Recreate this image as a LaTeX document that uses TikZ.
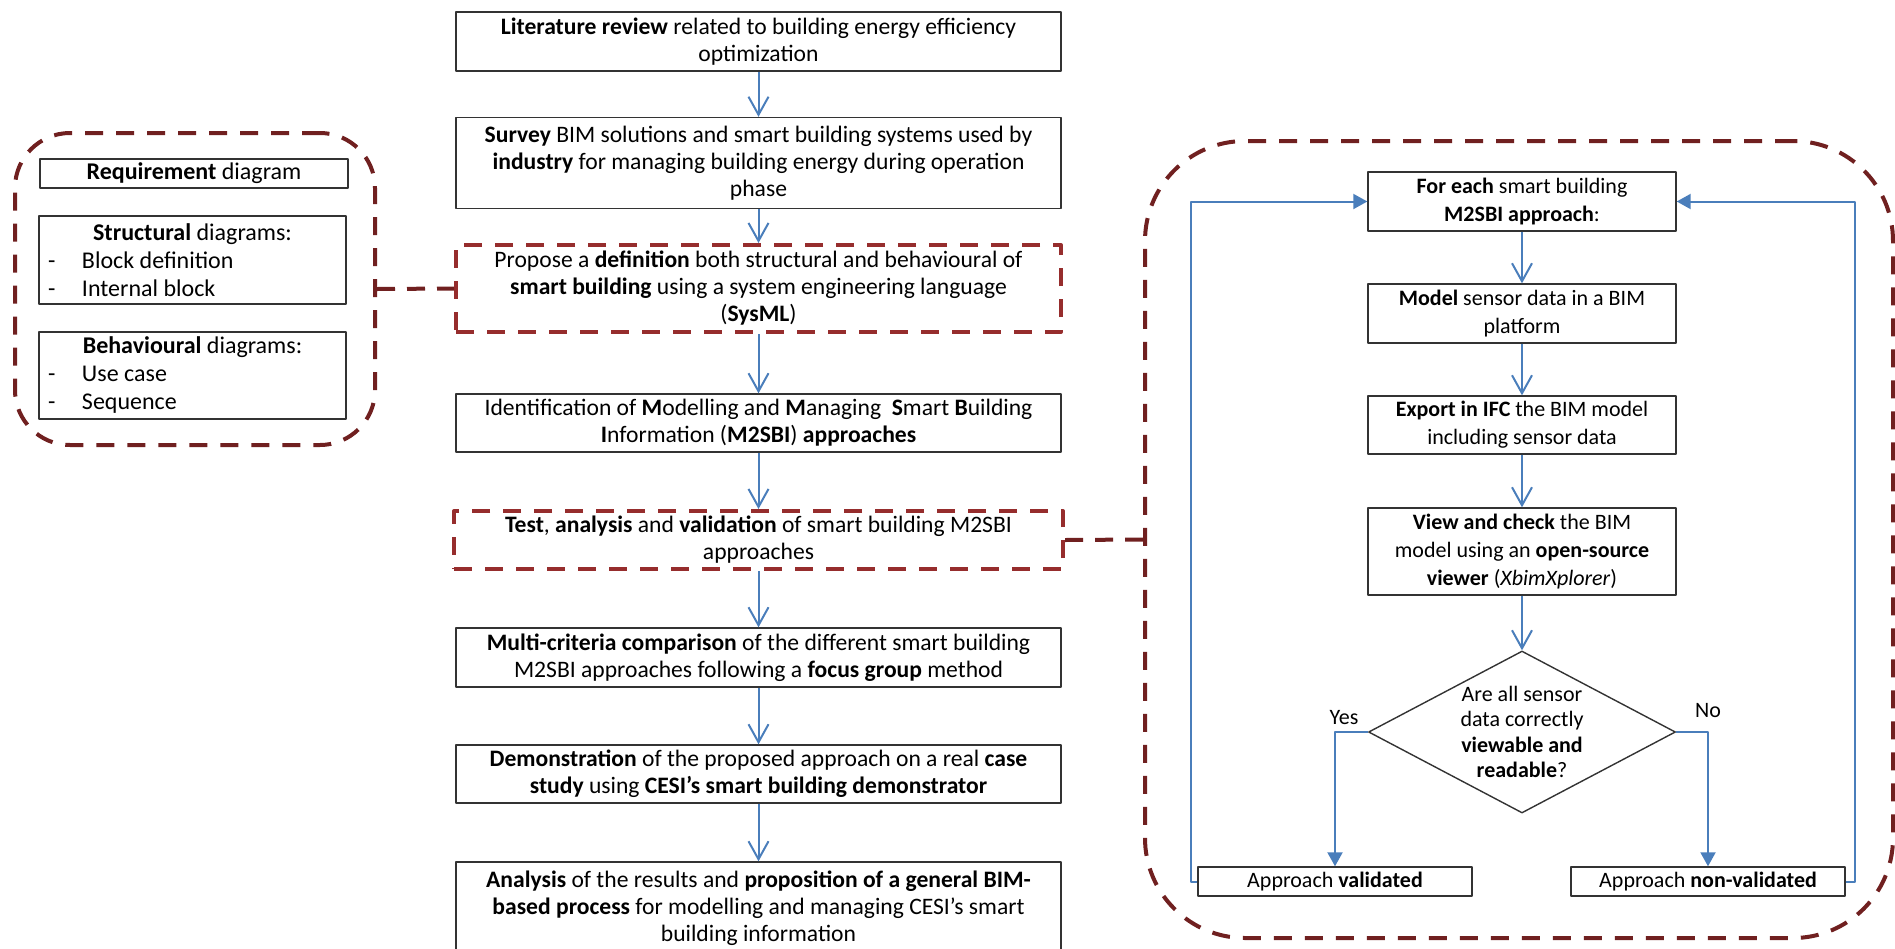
\documentclass[tikz,border=0pt]{standalone}
\usepackage{fontspec}
\setmainfont{Carlito}
\usetikzlibrary{arrows.meta, shapes.geometric}

\definecolor{flowblue}{RGB}{74,126,187}
\definecolor{boxred}{RGB}{150,45,45}
\definecolor{grpred}{RGB}{112,32,32}

\newcommand{\boxfont}{\fontsize{11.8}{13.5}\selectfont}
\newcommand{\sidefont}{\fontsize{12}{14}\selectfont}
\newcommand{\testfont}{\fontsize{11}{14}\selectfont}
\newcommand{\listline}[1]{\makebox[150pt][l]{\hspace{2.75pt}\makebox[17pt][l]{-}#1}}

\tikzset{
  stepbox/.style={draw=black!80, line width=0.7pt, fill=white, align=center,
    font=\boxfont, inner sep=1pt, minimum width=302.5pt},
  redbox/.style={draw=boxred, line width=2pt, dash pattern=on 9pt off 6.5pt},
  sidebox/.style={stepbox, font=\sidefont, minimum width=153.5pt},
  flowbox/.style={stepbox, font=\testfont, minimum width=154pt},
  endbox/.style={flowbox, minimum width=137pt, minimum height=14.5pt},
  grpbox/.style={draw=grpred, line width=2pt, dash pattern=on 9pt off 6.5pt,
    rounded corners=27.5pt},
  linkline/.style={draw=grpred, line width=2pt, dash pattern=on 9pt off 6pt},
  flowarrow/.style={draw=flowblue, line width=1pt,
    -{Straight Barb[length=9pt, width=10pt]}},
  loopline/.style={draw=flowblue, line width=1pt,
    -{Triangle[length=7pt, width=7.5pt]}},
}

\begin{document}
\begin{tikzpicture}[x=0.5pt, y=-0.5pt, line join=round]

\useasboundingbox (0,0) rectangle (1895,948);
\clip (0,0) rectangle (1895,948);

% --- Groups (SysML diagrams, test procedure) ---
\node[grpbox, minimum width=180pt, minimum height=156pt] (leftgrp) at (195,289) {};
\node[grpbox, rounded corners=50pt, minimum width=374pt, minimum height=398.5pt] (rightgrp) at (1519,539.5) {};

% --- Main research steps ---
\node[stepbox, minimum height=29.5pt] (lit) at (758.5,41.5)
  {\textbf{Literature review} related to building energy efficiency\\optimization};
\node[stepbox, minimum height=45.5pt] (survey) at (758.5,163)
  {\textbf{Survey} BIM solutions and smart building systems used by\\
   \textbf{industry} for managing building energy during operation\\phase};
\node[stepbox, redbox, minimum height=43.5pt] (prop) at (758.5,288.5)
  {Propose a \textbf{definition} both structural and behavioural of\\
   \textbf{smart building} using a system engineering language\\(\textbf{SysML})};
\node[stepbox, minimum height=29pt] (ident) at (758.5,423)
  {Identification of \textbf{M}odelling and \textbf{M}anaging\ \ \textbf{S}mart \textbf{B}uilding\\
   \textbf{I}nformation (\textbf{M2SBI}) \textbf{approaches}};
\node[stepbox, redbox, minimum width=304.5pt, minimum height=29pt] (test) at (758.5,540)
  {\textbf{Test}, \textbf{analysis} and \textbf{validation} of smart building M2SBI\\approaches};
\node[stepbox, minimum height=29.5pt] (multi) at (758.5,657.5)
  {\textbf{Multi-criteria comparison} of the different smart building\\
   M2SBI approaches following a \textbf{focus group} method};
\node[stepbox, minimum height=29pt] (demo) at (758.5,774)
  {\textbf{Demonstration} of the proposed approach on a real \textbf{case}\\
   \textbf{study} using \textbf{CESI's smart building demonstrator}};
\node[stepbox, minimum height=46pt] (anal) at (758.5,908)
  {\textbf{Analysis} of the results and \textbf{proposition of a general BIM-}\\
   \textbf{based process} for modelling and managing CESI's smart\\building information};

\foreach \src/\dst in {lit/survey, survey/prop, prop/ident, ident/test, test/multi, multi/demo, demo/anal}
  \draw[flowarrow] (\src.south) -- (\dst.north);

% dashed links to the groups
\draw[linkline] (leftgrp.east) -- (prop.west);
\draw[linkline] (test.east) -- (rightgrp.west);

% --- SysML diagrams ---
\node[sidebox, minimum width=154pt, minimum height=14.5pt] (req) at (194,173.5)
  {\textbf{Requirement} diagram};
\node[sidebox, minimum height=44pt] (struct) at (192.5,260)
  {\makebox[150pt]{\textbf{Structural} diagrams:}\\
   \listline{Block definition}\\\listline{Internal block}};
\node[sidebox, minimum height=43.5pt] (behav) at (192.5,375.5)
  {\makebox[150pt]{\textbf{Behavioural} diagrams:}\\
   \listline{Use case}\\\listline{Sequence}};

% --- Test procedure for each approach ---
\node[flowbox, minimum height=29.5pt] (each) at (1522,201.5)
  {\textbf{For each} smart building\\\textbf{M2SBI approach}:};
\node[flowbox, minimum height=29.5pt] (model) at (1522,313.5)
  {\textbf{Model} sensor data in a BIM\\platform};
\node[flowbox, minimum height=29pt] (export) at (1522,425)
  {\textbf{Export in IFC} the BIM model\\including sensor data};
\node[flowbox, minimum height=43.5pt] (view) at (1522,551.5)
  {\textbf{View and check} the BIM\\model using an \textbf{open-source}\\
   \textbf{viewer} (\textit{XbimXplorer})};
\node[draw=black!80, line width=0.7pt, diamond, aspect=1.895, inner sep=-4pt,
  minimum width=153.5pt, minimum height=81pt,
  align=center, font=\fontsize{11}{12.8}\selectfont] (dec) at (1522,732)
  {Are all sensor\\data correctly\\\textbf{viewable and}\\\textbf{readable}?};
\node[endbox] (valid) at (1335,881.5) {Approach \textbf{validated}};
\node[endbox] (nonvalid) at (1708,881.5) {Approach \textbf{non-validated}};

\foreach \src/\dst in {each/model, model/export, export/view, view/dec}
  \draw[flowarrow] (\src.south) -- (\dst.north);

% Yes / No branches
\draw[loopline] (dec.west) -| node[pos=0.5, above, xshift=4.5pt, font=\testfont] {Yes} (valid.north);
\draw[loopline] (dec.east) -| node[pos=0.5, above, yshift=3.5pt, font=\testfont] {No} (nonvalid.north);

% Back to the next approach
\draw[loopline] (valid.west) -- ++(-6,0) |- (each.west);
\draw[loopline] (nonvalid.east) -- ++(9,0) |- (each.east);

\end{tikzpicture}
\end{document}
